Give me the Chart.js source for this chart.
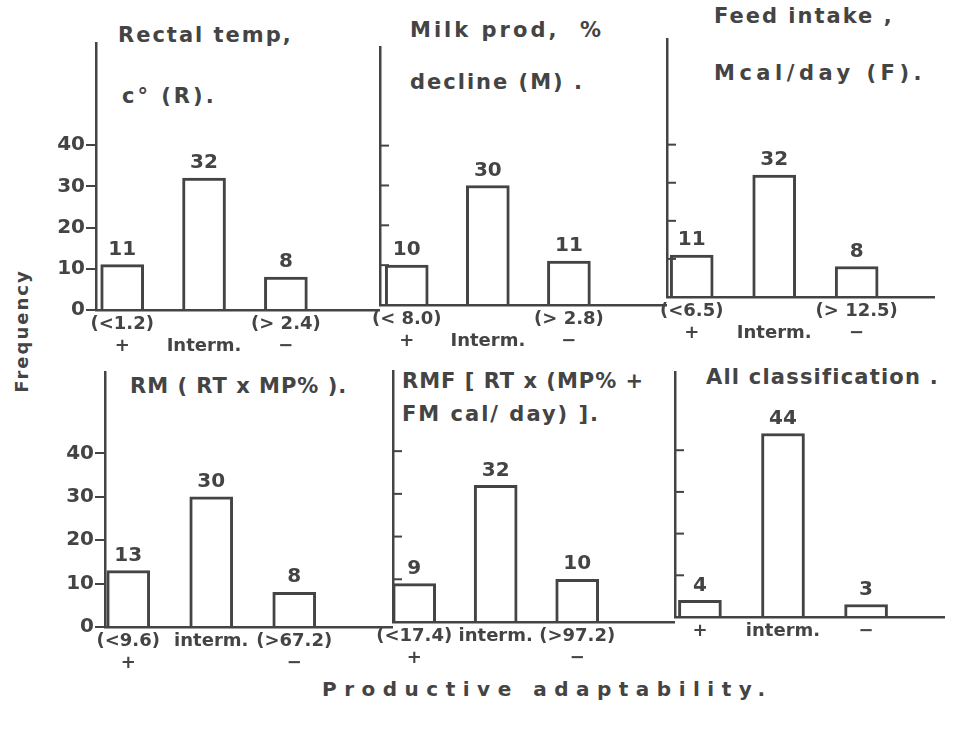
<!DOCTYPE html>
<html>
<head>
<meta charset="utf-8">
<script src="https://cdn.jsdelivr.net/npm/chart.js@4.4.1/dist/chart.umd.min.js"></script>
<style>
  body { margin: 0; background: #fff; }
  #figure { position: relative; width: 955px; height: 733px; overflow: hidden; font-family: "DejaVu Sans", sans-serif; color: #444; }
  #figure canvas { position: absolute; }
  .txt { position: absolute; white-space: nowrap; font-size: 21px; font-weight: bold; letter-spacing: 2px; line-height: 1; }
</style>
</head>
<body>
<div id="figure">
  <div class="txt" style="left:118px;top:25px;">Rectal temp,</div>
  <div class="txt" style="left:122px;top:86px;letter-spacing:3px;">c° (R).</div>
  <div class="txt" style="left:410px;top:20px;letter-spacing:3px;">Milk prod,&nbsp; %</div>
  <div class="txt" style="left:410px;top:72px;">decline (M) .</div>
  <div class="txt" style="left:714px;top:6px;">Feed intake ,</div>
  <div class="txt" style="left:714px;top:63px;letter-spacing:4.5px;">Mcal/day (F).</div>
  <div class="txt" style="left:130px;top:376px;letter-spacing:1px;">RM ( RT x MP% ).</div>
  <div class="txt" style="left:402px;top:371px;letter-spacing:1px;">RMF [ RT x (MP% +</div>
  <div class="txt" style="left:402px;top:404px;letter-spacing:2px;">FM cal/ day) ].</div>
  <div class="txt" style="left:706px;top:367px;letter-spacing:1.2px;">All classification .</div>
  <div class="txt" style="left:-43px;top:322px;width:130px;text-align:center;font-size:18px;letter-spacing:2px;transform:rotate(-90deg);">Frequency</div>
  <div class="txt" style="left:322px;top:679px;font-size:20px;letter-spacing:7.5px;">Productive adaptability.</div>
</div>
<script>
// frequencies per class: +, intermediate, -
const rectalTemp = [11, 32, 8];
const milkDecline = [10, 30, 11];
const feedIntake = [11, 32, 8];
const rmIndex = [13, 30, 8];
const rmfIndex = [9, 32, 10];
const allClass = [4, 44, 3];

// x tick labels (two lines each)
const rectalLabels = [['(<1.2)', '+'], ['', 'Interm.'], ['(> 2.4)', '−']];
const milkLabels = [['(< 8.0)', '+'], ['', 'Interm.'], ['(> 2.8)', '−']];
const feedLabels = [['(<6.5)', '+'], ['', 'Interm.'], ['(> 12.5)', '−']];
const rmLabels = [['(<9.6)', '+'], ['interm.'], ['(>67.2)', '−']];
const rmfLabels = [['(<17.4)', '+'], ['interm.'], ['(>97.2)', '−']];
const allLabels = [['+'], ['interm.'], ['−']];

const yTicks = [0, 10, 20, 30, 40];

const ink = '#444';
const font = { family: '"DejaVu Sans", sans-serif', size: 18, weight: 'bold' };

// numbers above the bars
const valueLabels = {
    id: 'valueLabels',
    afterDatasetsDraw(chart) {
        const ctx = chart.ctx;
        ctx.save();
        ctx.fillStyle = ink;
        ctx.font = 'bold 20px "DejaVu Sans", sans-serif';
        ctx.textAlign = 'center';
        ctx.textBaseline = 'bottom';
        chart.getDatasetMeta(0).data.forEach((bar, i) => {
            ctx.fillText(chart.data.datasets[0].data[i].y, bar.x, bar.y - 5);
        });
        ctx.restore();
    }
};

// small tick marks on the inner side of the unlabeled axes
const innerTicks = {
    id: 'innerTicks',
    afterDraw(chart, args, opts) {
        if (!opts.on) return;
        const y = chart.scales.y;
        const ctx = chart.ctx;
        ctx.save();
        ctx.strokeStyle = ink;
        ctx.lineWidth = 2;
        y.ticks.forEach(t => {
            if (t.value === 0) return;
            const py = y.getPixelForValue(t.value);
            ctx.beginPath();
            ctx.moveTo(y.right, py);
            ctx.lineTo(y.right + 9, py);
            ctx.stroke();
        });
        ctx.restore();
    }
};

const makePanel = (values, labels, box, xMin, xMax, yMax, showY) => {
    const canvas = document.createElement('canvas');
    canvas.width = box[2];
    canvas.height = box[3];
    canvas.style.left = box[0] + 'px';
    canvas.style.top = box[1] + 'px';
    document.getElementById('figure').appendChild(canvas);

    new Chart(canvas, {
        type: 'bar',
        data: {
            datasets: [{
                data: values.map((v, i) => ({ x: i + 1, y: v })),
                backgroundColor: '#fff',
                borderColor: ink,
                borderWidth: 3,
                borderSkipped: 'bottom',
                barThickness: 43
            }]
        },
        options: {
            responsive: false,
            animation: false,
            devicePixelRatio: 1,
            layout: { padding: 0 },
            plugins: {
                legend: { display: false },
                tooltip: { enabled: false },
                innerTicks: { on: !showY }
            },
            scales: {
                x: {
                    type: 'linear',
                    min: xMin,
                    max: xMax,
                    offset: false,
                    grid: { display: true, drawOnChartArea: false, drawTicks: false, offset: false },
                    border: { display: true, color: ink, width: 2.5 },
                    afterBuildTicks: s => { s.ticks = [1, 2, 3].map(v => ({ value: v })); },
                    afterFit: s => { s.height = 60; s.paddingLeft = 0; s.paddingRight = 0; },
                    ticks: {
                        autoSkip: false,
                        maxRotation: 0,
                        minRotation: 0,
                        padding: 4,
                        color: ink,
                        font: font,
                        callback: v => labels[v - 1]
                    }
                },
                y: {
                    min: 0,
                    max: yMax,
                    grid: { drawOnChartArea: false, drawTicks: showY, tickLength: 10, color: ink, lineWidth: 2 },
                    border: { display: true, color: ink, width: 2.5 },
                    afterBuildTicks: s => { s.ticks = yTicks.map(v => ({ value: v })); },
                    afterFit: s => { s.width = 50; s.paddingTop = 0; s.paddingBottom = 0; },
                    ticks: { display: showY, padding: 1, color: ink, font: { family: font.family, size: 20, weight: 'bold' } }
                }
            }
        },
        plugins: [valueLabels, innerTicks]
    });
};

makePanel(rectalTemp, rectalLabels, [46, 42, 334, 328], 0.68, 4.15, 65, true);
makePanel(milkDecline, milkLabels, [330, 46, 337, 319], 0.67, 4.21, 65, false);
makePanel(feedIntake, feedLabels, [617, 38, 318, 319], 0.70, 3.95, 68, false);
makePanel(rmIndex, rmLabels, [55, 371, 338, 316], 0.72, 4.19, 59, true);
makePanel(rmfIndex, rmfLabels, [343, 370, 332, 312], 0.74, 4.20, 59, false);
makePanel(allClass, allLabels, [625, 371, 320, 306], 0.70, 3.95, 59, false);
</script>
</body>
</html>
